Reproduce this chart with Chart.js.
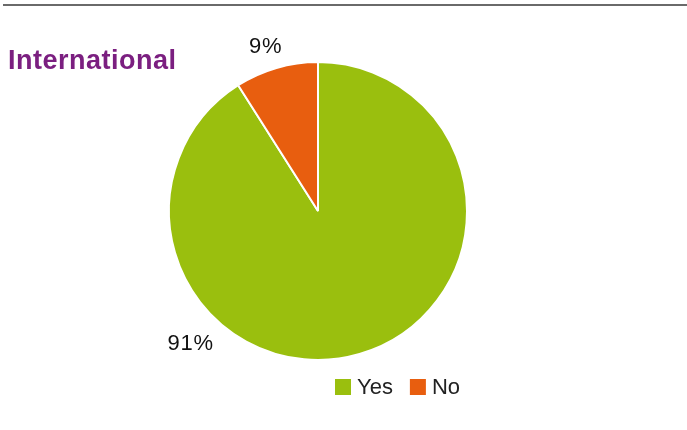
<!DOCTYPE html>
<html><head><meta charset="utf-8">
<script src="https://cdn.jsdelivr.net/npm/chart.js@4"></script>
<style>html,body{margin:0;padding:0;background:#fff;}#wrap{position:relative;width:687px;height:430px;}</style>
</head><body>
<div id="wrap"><canvas id="c" width="687" height="430"></canvas></div>
<script>
const chartTitle = "International";
const categories = ["Yes", "No"];
const values = [91, 9];
const valueLabels = ["91%", "9%"];
const colors = ["#9ABF0E", "#E85E0F"];

const decor = {
  id: 'decor',
  afterDraw(chart) {
    const ctx = chart.ctx;
    ctx.save();
    // top rule
    ctx.fillStyle = '#6a6a6a';
    ctx.fillRect(3, 4, 684, 2);
    // title
    ctx.fillStyle = '#7B1F80';
    ctx.font = 'bold 27px "Liberation Sans", Arial, sans-serif';
    ctx.letterSpacing = '0.5px';
    ctx.textBaseline = 'alphabetic';
    ctx.textAlign = 'left';
    ctx.fillText(chartTitle, 8, 69);
    // value labels
    const meta = chart.getDatasetMeta(0);
    const labelPlacement = [{ang: 134, f: 1.24}, {ang: -108, f: 1.16}];
    ctx.fillStyle = '#111';
    ctx.font = '22px "Liberation Sans", Arial, sans-serif';
    ctx.letterSpacing = '0.8px';
    ctx.textAlign = 'center';
    ctx.textBaseline = 'middle';
    meta.data.forEach((arc, i) => {
      const p = labelPlacement[i];
      const a = p.ang * Math.PI / 180;
      const r = arc.outerRadius * p.f;
      ctx.fillText(valueLabels[i], arc.x + r * Math.cos(a) + 1, arc.y + r * Math.sin(a));
    });
    // legend
    ctx.font = '22px "Liberation Sans", Arial, sans-serif';
    ctx.letterSpacing = '0px';
    ctx.textAlign = 'left';
    ctx.textBaseline = 'middle';
    let x = 335;
    const y = 387;
    categories.forEach((c, i) => {
      ctx.fillStyle = colors[i];
      ctx.fillRect(x, y - 8, 16, 16);
      ctx.fillStyle = '#222';
      ctx.fillText(c, x + 22, y + 1);
      x += 22 + ctx.measureText(c).width + 17;
    });
    ctx.restore();
  }
};

new Chart(document.getElementById('c'), {
  type: 'pie',
  data: {
    labels: categories,
    datasets: [{ data: values, backgroundColor: colors, borderColor: '#fff', borderWidth: 2 }]
  },
  options: {
    responsive: false,
    animation: false,
    layout: { padding: { left: 168, right: 219, top: 61, bottom: 69 } },
    plugins: { legend: { display: false }, tooltip: { enabled: false } }
  },
  plugins: [decor]
});
</script>
</body></html>
